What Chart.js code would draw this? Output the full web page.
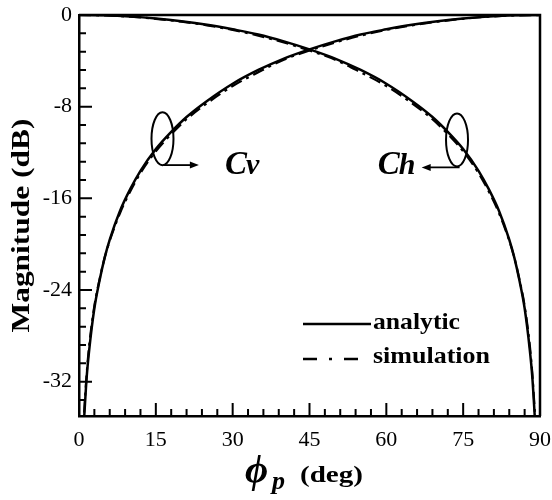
<!DOCTYPE html>
<html>
<head>
<meta charset="utf-8">
<script src="https://cdn.jsdelivr.net/npm/chart.js@4.4.1/dist/chart.umd.min.js"></script>
<style>
  html, body { margin: 0; padding: 0; background: #fff; }
  #wrap { width: 552px; height: 500px; }
</style>
</head>
<body>
<div id="wrap"><canvas id="c" width="552" height="500"></canvas></div>
<script>
// Polarization angle (deg) and magnitude (dB) of the vertical component Cv
const phiCv = [1, 1.5, 2, 3, 4, 5, 6, 8, 10, 12, 15, 18, 21, 25, 30, 35, 40, 45, 50, 55, 60, 65, 70, 75, 80, 85, 90];
const cvAnalytic = [-35.2, -31.6, -29.2, -25.6, -23.2, -21.2, -19.6, -17.1, -15.2, -13.6, -11.7, -10.2, -8.9, -7.5, -6.0, -4.8, -3.8, -3.0, -2.3, -1.7, -1.25, -0.85, -0.54, -0.30, -0.13, -0.03, 0];
const cvSimulation = [-34.7, -31.3, -28.8, -25.4, -23.1, -21.2, -19.7, -17.3, -15.4, -13.8, -11.9, -10.4, -9.1, -7.7, -6.2, -5.0, -3.9, -3.1, -2.4, -1.8, -1.3, -0.9, -0.58, -0.33, -0.15, -0.04, 0];

// Polarization angle (deg) and magnitude (dB) of the horizontal component Ch
const phiCh = [0, 5, 10, 15, 20, 25, 30, 35, 40, 45, 50, 55, 60, 65, 69, 72, 75, 78, 80, 82, 84, 85, 86, 87, 88, 88.5, 89];
const chAnalytic = [0, -0.03, -0.13, -0.30, -0.54, -0.85, -1.25, -1.7, -2.3, -3.0, -3.8, -4.8, -6.0, -7.5, -8.9, -10.2, -11.7, -13.6, -15.2, -17.1, -19.6, -21.2, -23.2, -25.6, -29.2, -31.6, -35.2];
const chSimulation = [0, -0.04, -0.15, -0.33, -0.58, -0.9, -1.3, -1.8, -2.4, -3.1, -3.9, -5.0, -6.2, -7.7, -9.1, -10.4, -11.9, -13.8, -15.4, -17.3, -19.7, -21.2, -23.1, -25.4, -28.8, -31.3, -34.7];

// Axis tick labels
const xTicks = [0, 15, 30, 45, 60, 75, 90];
const yTicks = [0, -8, -16, -24, -32];

const SERIF = "'Liberation Serif', 'Times New Roman', 'DejaVu Serif', serif";

const toPoints = (xs, ys) => xs.map((x, i) => ({ x: x, y: ys[i] }));

const solidStyle = { borderColor: '#000', borderWidth: 2.5, pointRadius: 0, fill: false, cubicInterpolationMode: 'monotone' };
const dashStyle = { borderColor: '#000', borderWidth: 2.2, pointRadius: 0, fill: false, cubicInterpolationMode: 'monotone', borderDash: [12, 5, 3, 5] };

// Draw text squeezed/stretched horizontally to a given width
function fitText(ctx, text, x, y, width, align) {
  const w = ctx.measureText(text).width;
  const s = width / w;
  ctx.save();
  ctx.translate(x, y);
  ctx.scale(s, 1);
  ctx.textAlign = align;
  ctx.fillText(text, 0, 0);
  ctx.restore();
}

function arrow(ctx, x0, y0, x1, y1) {
  const dir = Math.sign(x1 - x0);
  ctx.beginPath();
  ctx.moveTo(x0, y0);
  ctx.lineTo(x1 - dir * 6, y1);
  ctx.stroke();
  ctx.beginPath();
  ctx.moveTo(x1, y1);
  ctx.lineTo(x1 - dir * 9, y1 - 3.5);
  ctx.lineTo(x1 - dir * 9, y1 + 3.5);
  ctx.closePath();
  ctx.fill();
}

// Callouts: ellipse around the curves, arrow toward the curve name
const callouts = [
  { cx: 16.3, cy: -10.8, arrowFrom: 16.5, arrowTo: 23.4, arrowY: -13.1, textX: 28.5, textY: -13.9, name: 'C', sub: 'v' },
  { cx: 73.8, cy: -10.9, arrowFrom: 74.3, arrowTo: 66.9, arrowY: -13.3, textX: 58.3, textY: -13.9, name: 'C', sub: 'h' }
];

const decorations = {
  id: 'decorations',
  afterDatasetsDraw(chart) {
    const { ctx, chartArea: a, scales } = chart;
    const xs = scales.x, ys = scales.y;
    ctx.save();
    ctx.strokeStyle = '#000';
    ctx.fillStyle = '#000';

    // top and right frame
    ctx.lineWidth = 2.5;
    ctx.beginPath();
    ctx.moveTo(a.left, a.top);
    ctx.lineTo(a.right, a.top);
    ctx.lineTo(a.right, a.bottom);
    ctx.stroke();

    // inward tick marks
    ctx.lineWidth = 2;
    ctx.beginPath();
    for (let v = 0; v <= 90 + 1e-6; v += 3) {
      const px = xs.getPixelForValue(v);
      const len = (Math.round(v) % 15 === 0) ? 13 : 7;
      ctx.moveTo(px, a.bottom);
      ctx.lineTo(px, a.bottom - len);
    }
    for (let k = 0; k * 1.6 <= 35 + 1e-6; k++) {
      const v = -k * 1.6;
      const py = ys.getPixelForValue(v);
      const len = (k % 5 === 0) ? 13 : 7;
      ctx.moveTo(a.left, py);
      ctx.lineTo(a.left + len, py);
    }
    ctx.stroke();

    // callouts
    ctx.lineWidth = 2;
    callouts.forEach(c => {
      const ex = xs.getPixelForValue(c.cx), ey = ys.getPixelForValue(c.cy);
      ctx.beginPath();
      ctx.ellipse(ex, ey, 11, 26.5, 0, 0, Math.PI * 2);
      ctx.stroke();
      const ay = ys.getPixelForValue(c.arrowY);
      ctx.lineWidth = 1.8;
      arrow(ctx, xs.getPixelForValue(c.arrowFrom), ay, xs.getPixelForValue(c.arrowTo), ay);
      ctx.lineWidth = 2;
      const tx = xs.getPixelForValue(c.textX), ty = ys.getPixelForValue(c.textY);
      ctx.textBaseline = 'alphabetic';
      ctx.textAlign = 'left';
      ctx.font = 'italic bold 33px ' + SERIF;
      ctx.fillText(c.name, tx, ty);
      const cw = ctx.measureText(c.name).width;
      ctx.font = 'italic bold 30px ' + SERIF;
      ctx.fillText(c.sub, tx + cw - 1, ty);
    });

    // legend
    const ly1 = 324, ly2 = 359;
    ctx.lineWidth = 2.5;
    ctx.beginPath();
    ctx.moveTo(303, ly1);
    ctx.lineTo(371, ly1);
    ctx.stroke();
    ctx.beginPath();
    ctx.moveTo(303, ly2); ctx.lineTo(317, ly2);
    ctx.moveTo(329, ly2); ctx.lineTo(332, ly2);
    ctx.moveTo(344, ly2); ctx.lineTo(358, ly2);
    ctx.stroke();
    ctx.font = 'bold 24px ' + SERIF;
    ctx.textBaseline = 'middle';
    fitText(ctx, 'analytic', 373, ly1 - 1, 87, 'left');
    fitText(ctx, 'simulation', 373, ly2 - 2, 117, 'left');

    // y axis title
    ctx.save();
    ctx.translate(22, (a.top + a.bottom) / 2 + 10);
    ctx.rotate(-Math.PI / 2);
    ctx.font = 'bold 26px ' + SERIF;
    ctx.textBaseline = 'middle';
    fitText(ctx, 'Magnitude (dB)', 0, 0, 214, 'center');
    ctx.restore();

    // x axis title
    ctx.textBaseline = 'alphabetic';
    ctx.textAlign = 'left';
    ctx.font = 'italic bold 40px ' + SERIF;
    ctx.fillText('\u03D5', 245, 482);
    ctx.font = 'italic bold 26px ' + SERIF;
    ctx.fillText('p', 272, 489);
    ctx.font = 'bold 24px ' + SERIF;
    fitText(ctx, '(deg)', 300, 482, 63, 'left');

    ctx.restore();
  }
};

new Chart(document.getElementById('c'), {
  type: 'line',
  data: {
    datasets: [
      Object.assign({ label: 'simulation Cv', data: toPoints(phiCv, cvSimulation) }, dashStyle),
      Object.assign({ label: 'simulation Ch', data: toPoints(phiCh, chSimulation) }, dashStyle),
      Object.assign({ label: 'analytic Cv', data: toPoints(phiCv, cvAnalytic) }, solidStyle),
      Object.assign({ label: 'analytic Ch', data: toPoints(phiCh, chAnalytic) }, solidStyle)
    ]
  },
  options: {
    responsive: false,
    animation: false,
    devicePixelRatio: 1,
    layout: { padding: { top: 15, right: 12, left: 0, bottom: 0 } },
    plugins: { legend: { display: false }, tooltip: { enabled: false } },
    scales: {
      x: {
        type: 'linear', min: 0, max: 90,
        afterFit: s => { s.height = 84; s.paddingLeft = 0; s.paddingRight = 0; },
        afterBuildTicks: s => { s.ticks = xTicks.map(v => ({ value: v })); },
        grid: { display: true, drawOnChartArea: false, drawTicks: false },
        border: { display: true, color: '#000', width: 2.5 },
        ticks: { color: '#000', padding: 11, maxRotation: 0, autoSkip: false, font: { family: SERIF, size: 22 } }
      },
      y: {
        type: 'linear', min: -35, max: 0,
        afterFit: s => { s.width = 79; s.paddingTop = 0; s.paddingBottom = 0; },
        afterBuildTicks: s => { s.ticks = yTicks.map(v => ({ value: v })); },
        grid: { display: true, drawOnChartArea: false, drawTicks: false },
        border: { display: true, color: '#000', width: 2.5 },
        ticks: { color: '#000', padding: 7, autoSkip: false, font: { family: SERIF, size: 22 } }
      }
    }
  },
  plugins: [decorations]
});
</script>
</body>
</html>
